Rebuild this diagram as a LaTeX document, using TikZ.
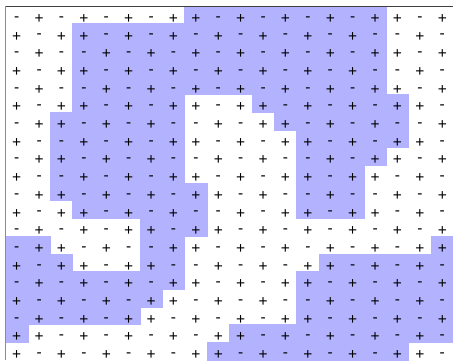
\documentclass[tikz,border=0pt]{standalone}
\usepackage{fontspec}
\setmainfont{Liberation Sans}
\begin{document}
\begin{tikzpicture}[x=1pt,y=-1pt]
\useasboundingbox (0,0) rectangle (453,360);
\def\xo{5.5}\def\yo{6}\def\cw{22.4}\def\ch{17.7}
\tikzset{
  sgn/.style={anchor=base,inner sep=0pt,font=\fontsize{15.5}{15.5}\selectfont},
  blu/.style={fill=blue!30,draw=blue!30,line width=0.5pt},
  frametop/.style={draw=black!75,line width=0.8pt},
  frameleft/.style={draw=black!45,line width=1pt}
}
\def\masklist{%
{0,0,0,0,0,0,0,0,1,1,1,1,1,1,1,1,1,0,0,0},%
{0,0,0,1,1,1,1,1,1,1,1,1,1,1,1,1,1,0,0,0},%
{0,0,0,1,1,1,1,1,1,1,1,1,1,1,1,1,1,0,0,0},%
{0,0,0,1,1,1,1,1,1,1,1,1,1,1,1,1,1,0,0,0},%
{0,0,0,1,1,1,1,1,1,1,1,1,1,1,1,1,1,0,0,0},%
{0,0,0,1,1,1,1,1,0,0,0,1,1,1,1,1,1,1,0,0},%
{0,0,1,1,1,1,1,1,0,0,0,0,1,1,1,1,1,1,0,0},%
{0,0,1,1,1,1,1,1,0,0,0,0,0,1,1,1,1,1,0,0},%
{0,0,1,1,1,1,1,1,0,0,0,0,0,1,1,1,1,0,0,0},%
{0,0,1,1,1,1,1,1,0,0,0,0,0,1,1,1,0,0,0,0},%
{0,0,1,1,1,1,1,1,1,0,0,0,0,1,1,1,0,0,0,0},%
{0,0,0,1,1,1,1,1,1,0,0,0,0,1,1,1,0,0,0,0},%
{0,0,0,0,0,0,1,1,1,0,0,0,0,0,0,0,0,0,0,0},%
{1,1,0,0,0,0,1,1,0,0,0,0,0,0,0,0,0,0,0,1},%
{1,1,1,0,0,0,1,1,0,0,0,0,0,0,1,1,1,1,1,1},%
{1,1,1,1,1,1,1,1,0,0,0,0,0,1,1,1,1,1,1,1},%
{1,1,1,1,1,1,1,0,0,0,0,0,0,1,1,1,1,1,1,1},%
{1,1,1,1,1,1,0,0,0,0,0,0,0,1,1,1,1,1,1,1},%
{1,0,0,0,0,0,0,0,0,0,1,1,1,1,1,1,1,1,1,1},%
{0,0,0,0,0,0,0,0,0,1,1,1,1,1,1,1,1,1,0,0}}
% shaded cells
\foreach \m [count=\r from 0] in \masklist {
  \foreach \b [count=\c from 0] in \m {
    \ifnum\b=1
      \path[blu] (\xo+\c*\cw,\yo+\r*\ch) rectangle ++(\cw,\ch);
    \fi
  }
}
% signs
\foreach \m [count=\r from 0] in \masklist {
  \foreach \b [count=\c from 0] in \m {
    \pgfmathtruncatemacro\s{mod(\r+\c+\b,2)}
    \ifnum\s=1
      \node[sgn] (s-\r-\c) at (\xo+\c*\cw+0.5*\cw,\yo+\r*\ch+17.3) {+};
    \else
      \node[sgn] (s-\r-\c) at (\xo+\c*\cw+0.5*\cw,\yo+\r*\ch+15.2) {-};
    \fi
  }
}
% frame
\coordinate (tl) at (\xo,\yo);
\coordinate (tr) at (453,\yo);
\coordinate (bl) at (\xo,360);
\draw[frametop] (tl) -- (tr);
\draw[frameleft] (tl) -- (bl);
\end{tikzpicture}
\end{document}
